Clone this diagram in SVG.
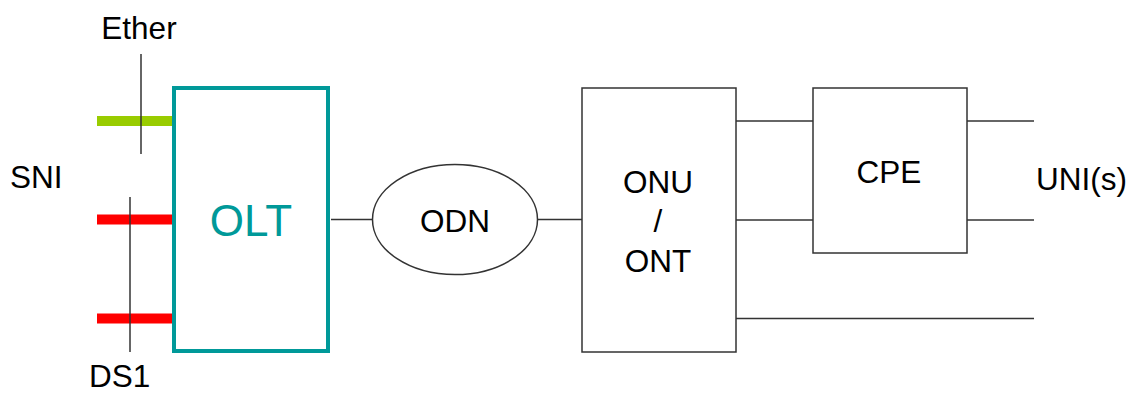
<svg xmlns="http://www.w3.org/2000/svg" width="1133" height="393" viewBox="0 0 1133 393">
<style>
text{font-family:"Liberation Sans",Arial,sans-serif;font-size:31.5px;fill:#000}
.box{fill:#fff;stroke:#333;stroke-width:1.5}
.ln{stroke:#333;stroke-width:1.5;fill:none}
.mid{text-anchor:middle}
</style>
<rect width="1133" height="393" fill="#fff"/>
<g id="connectors">
<line class="ln" x1="331" y1="219.5" x2="373" y2="219.5"/>
<line class="ln" x1="537" y1="219.5" x2="582" y2="219.5"/>
<line class="ln" x1="736" y1="121" x2="813" y2="121"/>
<line class="ln" x1="736" y1="220" x2="813" y2="220"/>
<line class="ln" x1="967" y1="121" x2="1034" y2="121"/>
<line class="ln" x1="967" y1="220" x2="1034" y2="220"/>
<line class="ln" x1="736" y1="318.5" x2="1034" y2="318.5"/>
</g>
<g id="sni">
<line x1="97" y1="121" x2="174" y2="121" stroke="#99cc00" stroke-width="10"/>
<line x1="97" y1="219.5" x2="174" y2="219.5" stroke="#ff0000" stroke-width="10"/>
<line x1="97" y1="318.5" x2="174" y2="318.5" stroke="#ff0000" stroke-width="10"/>
<line class="ln" x1="141" y1="54" x2="141" y2="154"/>
<line class="ln" x1="130" y1="197" x2="130" y2="352"/>
<text x="139" y="39" class="mid">Ether</text>
<text x="10" y="188">SNI</text>
<text x="89" y="387">DS1</text>
</g>
<g id="olt">
<rect x="174" y="88" width="154" height="263" fill="#fff" stroke="#009999" stroke-width="4"/>
<text x="251" y="236" class="mid" style="font-size:44px;fill:#009999">OLT</text>
</g>
<g id="odn">
<ellipse cx="455" cy="219.5" rx="82.5" ry="55" class="box"/>
<text x="455" y="232" class="mid">ODN</text>
</g>
<g id="onu">
<rect x="582" y="88" width="154" height="264" class="box"/>
<text x="658" y="193" class="mid">ONU</text>
<text x="658" y="232" class="mid">/</text>
<text x="658" y="272" class="mid">ONT</text>
</g>
<g id="cpe">
<rect x="813" y="88" width="154" height="165" class="box"/>
<text x="889" y="183" class="mid">CPE</text>
</g>
<g id="uni">
<text x="1036" y="190">UNI(s)</text>
</g>
</svg>
